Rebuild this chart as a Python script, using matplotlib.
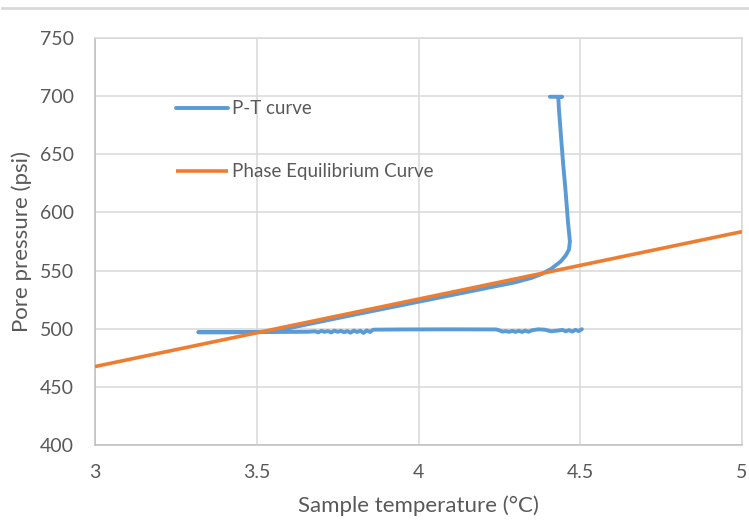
import matplotlib.pyplot as plt
from matplotlib.lines import Line2D

# P-T record of the sample: flat run at ~498 psi, then the rise along the
# equilibrium line and the final vertical pressurisation to 700 psi
pt_temp = [4.505, 4.495, 4.485, 4.475, 4.465, 4.455, 4.445, 4.43, 4.41, 4.39, 4.37,
           4.35, 4.34, 4.33, 4.32, 4.31, 4.30, 4.29, 4.28, 4.27, 4.26, 4.25, 4.24,
           4.10, 3.95, 3.86, 3.85, 3.84, 3.83, 3.82, 3.81, 3.80, 3.79, 3.78, 3.77,
           3.76, 3.75, 3.74, 3.73, 3.72, 3.71, 3.70, 3.69, 3.68, 3.66,
           3.62, 3.55, 3.45, 3.38, 3.32,
           3.40, 3.50, 3.55, 3.60, 3.70, 3.80, 3.90, 4.00, 4.10, 4.20, 4.30,
           4.35, 4.38, 4.41, 4.44, 4.455, 4.465, 4.468, 4.462, 4.455, 4.447,
           4.440, 4.434, 4.432, 4.444, 4.406]
pt_press = [499.6, 498.0, 499.0, 497.6, 498.8, 497.8, 499.0, 498.4, 497.8, 499.2, 499.5,
            498.6, 497.4, 498.4, 497.2, 498.3, 497.3, 498.2, 497.3, 498.0, 497.5, 498.6, 499.4,
            499.5, 499.4, 499.2, 497.2, 498.6, 496.4, 498.3, 497.2, 498.4, 496.6, 498.0, 497.0,
            498.2, 497.3, 498.4, 496.8, 498.0, 497.3, 498.2, 496.9, 497.8, 497.4,
            497.3, 497.2, 497.0, 497.0, 497.0,
            497.0, 497.2, 497.6, 500.5, 506.3, 512.0, 517.6, 523.2, 528.8, 534.4, 540.0,
            543.8, 547.0, 551.5, 558.0, 563.0, 568.0, 575.0, 592.0, 617.0, 642.0,
            667.0, 689.0, 699.0, 699.5, 699.5]

# phase equilibrium line across the plotted range
eq_temp = [3.0, 5.0]
eq_press = [467.5, 583.5]

xticks = [3, 3.5, 4, 4.5, 5]
yticks = [400, 450, 500, 550, 600, 650, 700, 750]

txt = '#595959'
grid = '#d9d9d9'
plt.rcParams['font.family'] = ['Lato', 'DejaVu Sans']

fig = plt.figure(figsize=(7.49, 5.23), dpi=100)
ax = fig.add_axes([0.1268, 0.1491, 0.8639, 0.7782])

ax.plot(pt_temp, pt_press, color='#5B9BD5', lw=2.8, solid_capstyle='round',
        solid_joinstyle='round', label='P-T curve', zorder=3)
ax.plot(eq_temp, eq_press, color='#ED7D31', lw=2.6, solid_capstyle='butt',
        label='Phase Equilibrium Curve', zorder=4)

ax.set_xlim(3, 5)
ax.set_ylim(400, 750)
ax.set_xticks(xticks)
ax.set_xticklabels(['3', '3.5', '4', '4.5', '5'])
ax.set_yticks(yticks)
ax.grid(True, color=grid, lw=1.1)
ax.set_axisbelow(True)
ax.tick_params(length=0, labelsize=14, labelcolor=txt)
ax.tick_params(axis='y', pad=15)
ax.tick_params(axis='x', pad=14)
for side in ['top', 'right']:
    ax.spines[side].set_color(grid)
for side in ['left', 'bottom']:
    ax.spines[side].set_color('#bfbfbf')
for sp in ax.spines.values():
    sp.set_linewidth(1.1)

ax.set_xlabel('Sample temperature (°C)', fontsize=16, color=txt, labelpad=10)
ax.set_ylabel('Pore pressure (psi)', fontsize=16, color=txt, labelpad=6)

leg = ax.legend(loc='upper left', bbox_to_anchor=(0.11, 0.87), frameon=False,
                fontsize=13.5, labelspacing=2.45, handlelength=2.8,
                handletextpad=0.2, borderpad=0)
for t in leg.get_texts():
    t.set_color(txt)

# thin rule along the top of the chart
fig.add_artist(Line2D([0.003, 1.0], [0.985, 0.985], transform=fig.transFigure,
                      color=grid, lw=2))

fig.savefig('out.png', dpi=100)
